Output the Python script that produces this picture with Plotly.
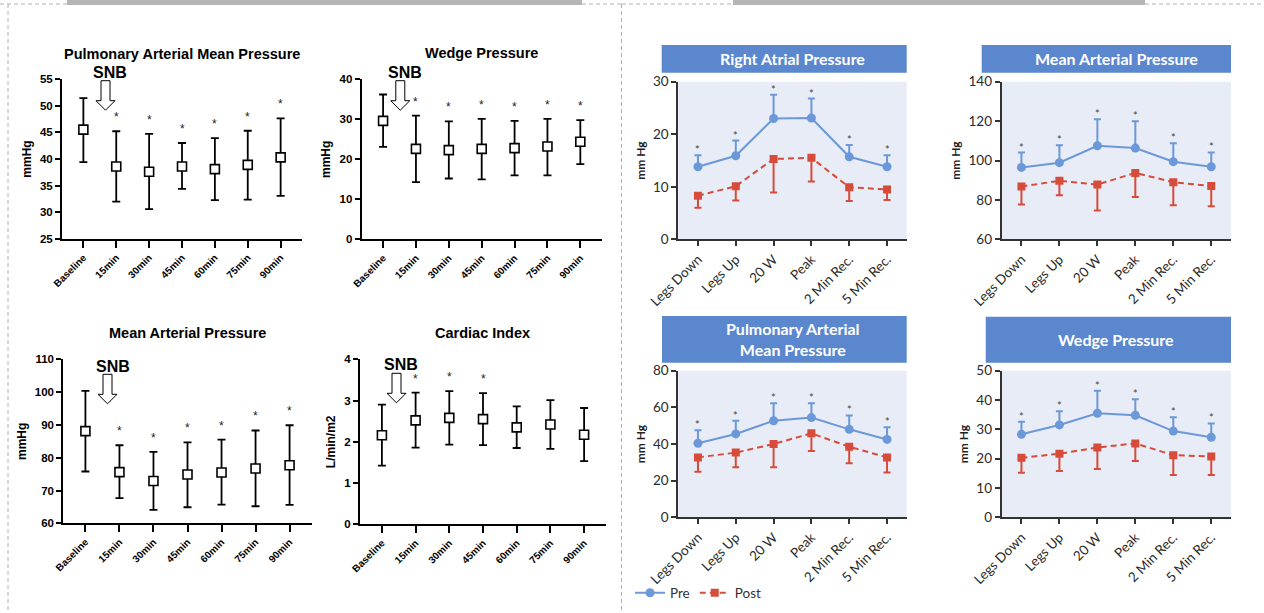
import plotly.graph_objects as go

W, H = 1264, 613

# ---------------- data ----------------
left_cats = ["Baseline", "15min", "30min", "45min", "60min", "75min", "90min"]

pamp_mean = [45.5, 38.6, 37.6, 38.6, 38.1, 38.9, 40.3]
pamp_upper = [51.4, 45.2, 44.7, 43.0, 43.9, 45.3, 47.6]
pamp_lower = [39.4, 32.0, 30.6, 34.4, 32.3, 32.4, 33.1]
pamp_sig = [False, True, True, True, True, True, True]

wedge_mean = [29.6, 22.6, 22.3, 22.6, 22.8, 23.2, 24.4]
wedge_upper = [36.2, 30.9, 29.5, 30.1, 29.6, 30.1, 29.8]
wedge_lower = [23.1, 14.3, 15.2, 15.0, 16.0, 16.0, 18.8]
wedge_sig = [False, True, True, True, True, True, True]

map_mean = [88.1, 75.6, 72.9, 74.9, 75.5, 76.7, 77.7]
map_upper = [100.4, 83.8, 81.8, 84.7, 85.5, 88.3, 89.9]
map_lower = [75.8, 67.7, 64.1, 64.9, 65.7, 65.2, 65.6]
map_sig = [False, True, True, True, True, True, True]

ci_mean = [2.16, 2.52, 2.58, 2.55, 2.35, 2.42, 2.17]
ci_upper = [2.90, 3.19, 3.23, 3.18, 2.86, 3.01, 2.82]
ci_lower = [1.42, 1.86, 1.93, 1.92, 1.85, 1.83, 1.53]
ci_sig = [False, True, True, True, False, False, False]

right_cats = ["Legs Down", "Legs Up", "20 W", "Peak", "2 Min Rec.", "5 Min Rec."]

rap_pre = [13.8, 15.9, 23.0, 23.1, 15.7, 13.8]
rap_pre_upper = [16.0, 18.8, 27.5, 26.8, 17.95, 16.0]
rap_post = [8.3, 10.1, 15.3, 15.5, 9.9, 9.5]
rap_post_lower = [6.0, 7.4, 8.9, 11.0, 7.3, 7.5]

mapr_pre = [96.5, 98.9, 107.5, 106.3, 99.4, 96.8]
mapr_pre_upper = [104.0, 107.7, 120.9, 119.9, 108.7, 104.1]
mapr_post = [86.8, 89.7, 87.8, 93.7, 89.0, 87.0]
mapr_post_lower = [77.7, 82.4, 74.6, 81.5, 77.3, 76.8]

pampr_pre = [40.4, 45.5, 52.7, 54.4, 48.0, 42.5]
pampr_pre_upper = [47.5, 52.7, 62.2, 62.2, 55.6, 49.1]
pampr_post = [32.7, 35.3, 40.0, 45.8, 38.5, 32.7]
pampr_post_lower = [24.9, 27.3, 27.3, 36.2, 29.5, 24.5]

wedger_pre = [28.3, 31.5, 35.5, 34.8, 29.4, 27.3]
wedger_pre_upper = [32.6, 36.2, 43.2, 40.3, 34.1, 32.0]
wedger_post = [20.3, 21.7, 23.8, 25.2, 21.2, 20.7]
wedger_post_lower = [15.2, 15.8, 16.5, 19.2, 14.4, 14.4]

# ---------------- helpers ----------------
def fx(px):
    return px / W


def fy(py):
    return 1 - py / H


LFONT = "Liberation Sans, Arial, sans-serif"
RFONT = "Lato, Open Sans, sans-serif"
BLUE = "#6b98d8"
RED = "#d64b3a"
BAND = "#5b87cf"
PANELBG = "#e8ecf6"

fig = go.Figure()
annotations = []
shapes = []
layout = {}

left_panels = [
    dict(title="Pulmonary Arterial Mean Pressure", ytitle="mmHg", mean=pamp_mean, up=pamp_upper,
         lo=pamp_lower, sig=pamp_sig, box=(62, 302, 79, 239), yr=[25, 55], dtick=5,
         tpos=(182, 54), snb=(110, 72), arrow=(105.5, 80.7)),
    dict(title="Wedge Pressure", ytitle="mmHg", mean=wedge_mean, up=wedge_upper,
         lo=wedge_lower, sig=wedge_sig, box=(361.7, 601.7, 79.3, 239.3), yr=[0, 40], dtick=10,
         tpos=(481.7, 53), snb=(404.5, 72), arrow=(400.3, 80.7)),
    dict(title="Mean Arterial Pressure", ytitle="mmHg", mean=map_mean, up=map_upper,
         lo=map_lower, sig=map_sig, box=(63.3, 311.7, 359.3, 523.3), yr=[60, 110], dtick=10,
         tpos=(188, 333), snb=(112.5, 366), arrow=(107.5, 374.3)),
    dict(title="Cardiac Index", ytitle="L/min/m2", mean=ci_mean, up=ci_upper,
         lo=ci_lower, sig=ci_sig, box=(360, 606, 359.3, 524.3), yr=[0, 4], dtick=1,
         tpos=(482.7, 333), snb=(401, 364.5), arrow=(396.5, 373.3)),
]

right_panels = [
    dict(title="Right Atrial Pressure", pre=rap_pre, pre_up=rap_pre_upper, post=rap_post,
         post_lo=rap_post_lower, box=(678.3, 906.7, 81.7, 239.3), yr=[0, 30], dtick=10,
         band=(661.7, 906.7, 45, 72.7)),
    dict(title="Mean Arterial Pressure", pre=mapr_pre, pre_up=mapr_pre_upper, post=mapr_post,
         post_lo=mapr_post_lower, box=(1001.7, 1231, 81.7, 239.3), yr=[60, 140], dtick=20,
         band=(981.7, 1231, 45, 72.7)),
    dict(title="Pulmonary Arterial<br>Mean Pressure", pre=pampr_pre, pre_up=pampr_pre_upper,
         post=pampr_post, post_lo=pampr_post_lower, box=(678.3, 906.7, 370.7, 517.3),
         yr=[0, 80], dtick=20, band=(662, 906.7, 316, 362.7), legend=True),
    dict(title="Wedge Pressure", pre=wedger_pre, pre_up=wedger_pre_upper, post=wedger_post,
         post_lo=wedger_post_lower, box=(1001.7, 1231, 370.7, 517.3), yr=[0, 50], dtick=10,
         band=(985.7, 1231, 316.7, 362.7)),
]

n = 0
# ---------------- left (GraphPad-style) panels ----------------
for p in left_panels:
    n += 1
    xa, ya = f"x{n}", f"y{n}"
    x0, x1, y0, y1 = p["box"]
    fig.add_trace(go.Scatter(
        x=left_cats, y=p["mean"], xaxis=xa, yaxis=ya, mode="markers", showlegend=False,
        marker=dict(symbol="square", size=9, color="white", line=dict(color="black", width=1.6)),
        error_y=dict(type="data", symmetric=False,
                     array=[u - m for u, m in zip(p["up"], p["mean"])],
                     arrayminus=[m - l for m, l in zip(p["mean"], p["lo"])],
                     color="black", thickness=1.8, width=4),
    ))
    axis_common = dict(showline=True, linecolor="black", linewidth=2, ticks="outside",
                       tickcolor="black", tickwidth=1.6, showgrid=False, zeroline=False,
                       automargin=False,
                       tickfont=dict(family=LFONT, size=11.5, color="black", weight="bold"))
    layout[f"xaxis{n}"] = dict(axis_common, domain=[fx(x0), fx(x1)], anchor=ya,
                               range=[-0.65, 6.65], type="category", tickangle=-45, ticklen=7,
                               tickfont=dict(family=LFONT, size=10, color="black", weight="bold"))
    layout[f"yaxis{n}"] = dict(axis_common, domain=[fy(y1), fy(y0)], anchor=xa,
                               range=p["yr"], dtick=p["dtick"], ticklen=5,
                               title=dict(text=p["ytitle"], standoff=6,
                                          font=dict(family=LFONT, size=12, color="black", weight="bold")))
    annotations.append(dict(text=p["title"], x=fx(p["tpos"][0]), y=fy(p["tpos"][1]), xref="paper",
                            yref="paper", showarrow=False, xanchor="center", yanchor="middle",
                            font=dict(family=LFONT, size=14.5, color="black", weight="bold")))
    annotations.append(dict(text="SNB", x=fx(p["snb"][0]), y=fy(p["snb"][1]), xref="paper",
                            yref="paper", showarrow=False, xanchor="center", yanchor="middle",
                            font=dict(family=LFONT, size=16, color="black", weight="bold")))
    # hollow down arrow
    cx, top = p["arrow"]
    pts = [(cx - 4.5, top), (cx + 4.5, top), (cx + 4.5, top + 20), (cx + 9.5, top + 20),
           (cx, top + 29.5), (cx - 9.5, top + 20), (cx - 4.5, top + 20)]
    path = "M " + " L ".join(f"{fx(a):.5f},{fy(b):.5f}" for a, b in pts) + " Z"
    shapes.append(dict(type="path", path=path, xref="paper", yref="paper",
                       fillcolor="white", line=dict(color="black", width=1)))
    for cat, u, s in zip(left_cats, p["up"], p["sig"]):
        if s:
            annotations.append(dict(text="*", x=cat, y=u, xref=xa, yref=ya, showarrow=False,
                                    xanchor="center", yanchor="bottom", yshift=5,
                                    font=dict(family=LFONT, size=12, color="#222")))

# ---------------- right (JACC-style) panels ----------------
for p in right_panels:
    n += 1
    xa, ya = f"x{n}", f"y{n}"
    x0, x1, y0, y1 = p["box"]
    leg = p.get("legend", False)
    fig.add_trace(go.Scatter(
        x=right_cats, y=p["pre"], xaxis=xa, yaxis=ya, mode="lines+markers", name="Pre",
        showlegend=leg, line=dict(color=BLUE, width=2),
        marker=dict(symbol="circle", size=9, color=BLUE),
        error_y=dict(type="data", symmetric=False,
                     array=[u - m for u, m in zip(p["pre_up"], p["pre"])],
                     arrayminus=[0] * len(p["pre"]), color=BLUE, thickness=2, width=3.5),
    ))
    fig.add_trace(go.Scatter(
        x=right_cats, y=p["post"], xaxis=xa, yaxis=ya, mode="lines+markers", name="Post",
        showlegend=leg, line=dict(color=RED, width=2, dash="6px,4px"),
        marker=dict(symbol="square", size=8, color=RED),
        error_y=dict(type="data", symmetric=False, array=[0] * len(p["post"]),
                     arrayminus=[m - l for m, l in zip(p["post"], p["post_lo"])],
                     color=RED, thickness=2, width=3.5),
    ))
    axis_common = dict(showline=True, linecolor="#333333", linewidth=2, ticks="outside",
                       tickcolor="#333333", tickwidth=1.5, ticklen=5, showgrid=False,
                       zeroline=False, automargin=False,
                       tickfont=dict(family=RFONT, size=13.5, color="#2a2a2a"))
    layout[f"xaxis{n}"] = dict(axis_common, domain=[fx(x0), fx(x1)], anchor=ya,
                               range=[-0.52, 5.52], type="category", tickangle=-45)
    layout[f"yaxis{n}"] = dict(axis_common, domain=[fy(y1), fy(y0)], anchor=xa,
                               range=p["yr"], dtick=p["dtick"],
                               title=dict(text="mm Hg", standoff=5,
                                          font=dict(family=RFONT, size=12, color="#222", weight="bold")))
    shapes.append(dict(type="rect", xref=f"{xa} domain", yref=f"{ya} domain", x0=0, x1=1,
                       y0=0, y1=1, fillcolor=PANELBG, line=dict(width=0), layer="below"))
    bx0, bx1, by0, by1 = p["band"]
    shapes.append(dict(type="rect", xref="paper", yref="paper", x0=fx(bx0), x1=fx(bx1),
                       y0=fy(by1), y1=fy(by0), fillcolor=BAND, line=dict(width=0), layer="below"))
    annotations.append(dict(text=p["title"], x=fx((x0 + x1) / 2), y=fy((by0 + by1) / 2),
                            xref="paper", yref="paper", showarrow=False, xanchor="center",
                            yanchor="middle", align="center",
                            font=dict(family=RFONT, size=16, color="white", weight="bold")))
    for cat, u in zip(right_cats, p["pre_up"]):
        annotations.append(dict(text="*", x=cat, y=u, xref=xa, yref=ya, showarrow=False,
                                xanchor="center", yanchor="bottom", yshift=-3,
                                font=dict(family=RFONT, size=11, color="#444")))

# ---------------- page decoration ----------------
DASH = dict(color="#b0b0b0", width=1, dash="4px,3px")
deco = [
    (0, 4, 67, 4), (582, 4, 622, 4), (622, 4, 733, 4), (1145, 4, 1264, 4),
    (8, 4, 8, 613), (621.5, 4, 621.5, 613),
]
for a, b, c, d in deco:
    shapes.append(dict(type="line", xref="paper", yref="paper", x0=fx(a), y0=fy(b),
                       x1=fx(c), y1=fy(d), line=DASH))
for a, c in [(67, 582), (733, 1145)]:
    shapes.append(dict(type="rect", xref="paper", yref="paper", x0=fx(a), x1=fx(c),
                       y0=fy(5), y1=fy(0), fillcolor="#b5b5b5", line=dict(width=0)))

layout.update(dict(
    width=W, height=H, margin=dict(l=0, r=0, t=0, b=0, autoexpand=False),
    paper_bgcolor="white", plot_bgcolor="rgba(0,0,0,0)",
    annotations=annotations, shapes=shapes,
    showlegend=True,
    legend=dict(orientation="h", x=fx(630), y=fy(593), xanchor="left", yanchor="middle",
                font=dict(family=RFONT, size=13.5, color="#333"), bgcolor="rgba(0,0,0,0)",
                itemwidth=30, tracegroupgap=0),
))
fig.update_layout(**layout)
fig.write_html("out.html", config={"displayModeBar": False},
               post_script="document.body.style.margin='0';document.body.style.overflow='hidden';")
